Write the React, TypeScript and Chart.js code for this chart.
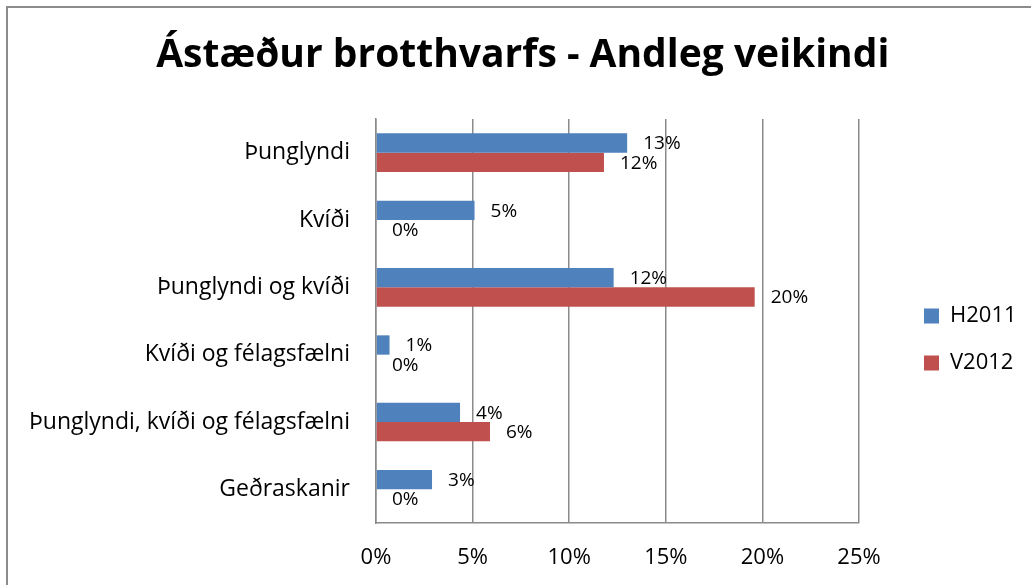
import React, { useEffect, useRef } from 'react';
import { Chart, registerables } from 'chart.js';

Chart.register(...registerables);

const categories = [
  'Þunglyndi',
  'Kvíði',
  'Þunglyndi og kvíði',
  'Kvíði og félagsfælni',
  'Þunglyndi, kvíði og félagsfælni',
  'Geðraskanir',
];
const seriesNames = ['H2011', 'V2012'];
const h2011 = [13.0, 5.1, 12.3, 0.7, 4.35, 2.9];
const v2012 = [11.8, 0, 19.6, 0, 5.9, 0];
const xMin = 0;
const xMax = 25;
const xStep = 5;
const chartTitle = 'Ástæður brotthvarfs - Andleg veikindi';

const FONT = '"Open Sans", "DejaVu Sans", sans-serif';
const GRID = '#8a8a8a';

const W = 1031;
const H = 585;

export default function App() {
  const ref = useRef<HTMLCanvasElement | null>(null);

  useEffect(() => {
    const canvas = ref.current;
    if (!canvas) return;

    const legendFontSize = 22;
    const legendPadding = 25;
    const legendBox = 15;
    const mctx = document.createElement('canvas').getContext('2d')!;
    mctx.font = `${legendFontSize}px ${FONT}`;
    const textW = Math.max(...seriesNames.map((n) => mctx.measureText(n).width));
    const legendW = legendPadding + legendBox + legendFontSize / 2 + textW + 10;
    const boxLeft = 924;
    const padRight = Math.max(0, W - (boxLeft - legendPadding) - legendW);
    const legendLeft = W - padRight - legendW;
    const plotRight = 859;
    const gapW = Math.max(0, legendLeft - plotRight);

    const padLeft = 19;
    const plotLeft = 376;
    const plotBottom = 523;

    const framePlugin = {
      id: 'frame',
      beforeDraw(chart: any) {
        const c = chart.ctx;
        c.save();
        c.fillStyle = '#ffffff';
        c.fillRect(0, 0, chart.width, chart.height);
        c.strokeStyle = '#8c8c8c';
        c.lineWidth = 2;
        c.beginPath();
        c.moveTo(7, chart.height);
        c.lineTo(7, 7);
        c.lineTo(chart.width, 7);
        c.stroke();
        c.restore();
      },
    };

    const dataLabelPlugin = {
      id: 'dataLabels',
      afterDatasetsDraw(chart: any) {
        const c = chart.ctx;
        c.save();
        c.font = `19px ${FONT}`;
        c.fillStyle = '#000';
        c.textAlign = 'left';
        c.textBaseline = 'middle';
        chart.data.datasets.forEach((ds: any, di: number) => {
          const meta = chart.getDatasetMeta(di);
          meta.data.forEach((el: any, i: number) => {
            const v = ds.data[i] as number;
            c.fillText(Math.round(v) + '%', el.x + 16, el.y + 1);
          });
        });
        c.restore();
      },
    };

    const chart = new Chart(canvas, {
      type: 'bar',
      data: {
        labels: categories,
        datasets: [
          {
            label: seriesNames[0],
            data: h2011,
            backgroundColor: '#4F81BD',
            borderWidth: 0,
            xAxisID: 'x',
            yAxisID: 'y',
          },
          {
            label: seriesNames[1],
            data: v2012,
            backgroundColor: '#C0504D',
            borderWidth: 0,
            xAxisID: 'x',
            yAxisID: 'y',
          },
        ],
      },
      options: {
        indexAxis: 'y',
        responsive: false,
        animation: false,
        events: [],
        layout: { padding: { left: padLeft, right: padRight, top: 0, bottom: 0 } },
        datasets: {
          bar: { categoryPercentage: 0.574, barPercentage: 1.0 },
        },
        scales: {
          x: {
            type: 'linear',
            position: 'bottom',
            min: xMin,
            max: xMax,
            ticks: {
              stepSize: xStep,
              padding: 22,
              color: '#000',
              font: { family: FONT, size: 22 },
              callback: (v: any) => v + '%',
            },
            grid: { display: true, color: GRID, lineWidth: 1.5, drawTicks: false },
            border: { display: true, color: GRID, width: 1.5 },
            afterFit: (s: any) => {
              s.height = H - plotBottom;
            },
          },
          y: {
            type: 'category',
            position: 'left',
            ticks: {
              padding: 26,
              color: '#000',
              font: { family: FONT, size: 23 },
              autoSkip: false,
            },
            grid: { display: false, drawTicks: false },
            border: { display: true, color: GRID, width: 1.5 },
            afterFit: (s: any) => {
              s.width = plotLeft - padLeft;
            },
          },
          y2: {
            type: 'category',
            position: 'right',
            display: true,
            ticks: { display: false },
            grid: { display: false, drawTicks: false },
            border: { display: false },
            afterFit: (s: any) => {
              s.width = gapW;
            },
          },
        },
        plugins: {
          title: {
            display: true,
            text: chartTitle,
            color: '#000',
            font: { family: FONT, size: 39, weight: 'bold', lineHeight: 1.2 },
            padding: { top: 32.6, bottom: 39.6 },
          },
          legend: {
            display: true,
            position: 'right',
            align: 'start',
            title: {
              display: true,
              text: '',
              font: { size: 10, lineHeight: 1.2 },
              padding: { top: 268, bottom: 0 },
            },
            labels: {
              boxWidth: legendBox,
              boxHeight: legendBox,
              padding: legendPadding,
              color: '#000',
              font: { family: FONT, size: legendFontSize },
            },
          },
          tooltip: { enabled: false },
        },
      },
      plugins: [framePlugin, dataLabelPlugin],
    } as any);

    return () => {
      chart.destroy();
    };
  }, []);

  return (
    <div style={{ position: 'fixed', left: 0, top: 0, width: W, height: H, background: '#fff' }}>
      <canvas ref={ref} width={W} height={H} style={{ display: 'block', width: W, height: H }} />
    </div>
  );
}
